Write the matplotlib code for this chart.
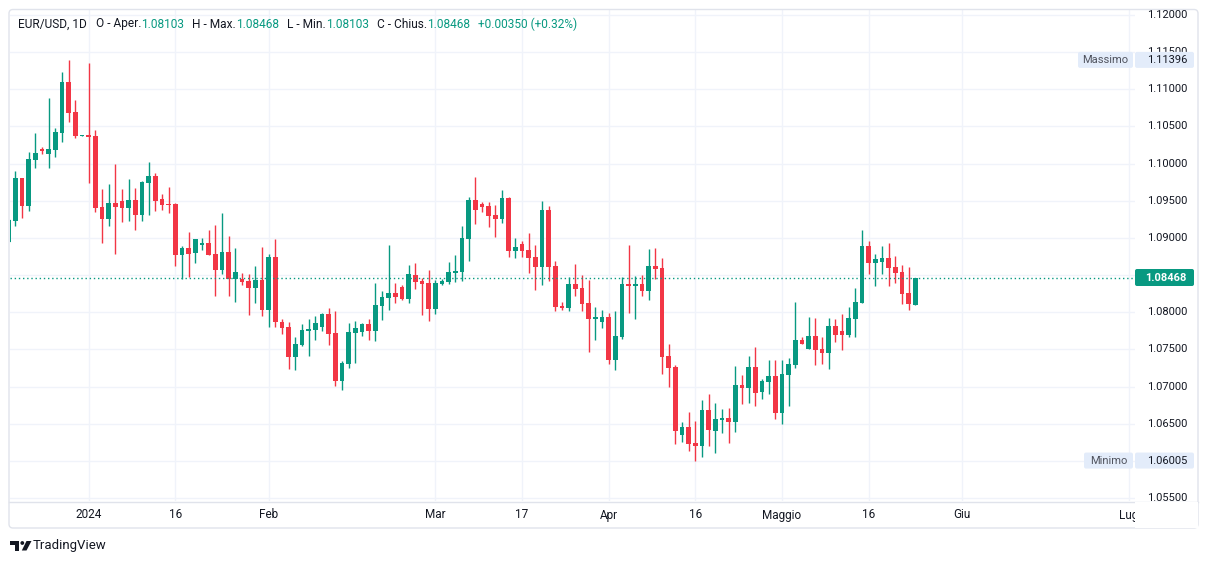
import matplotlib
matplotlib.use("Agg")
import matplotlib.pyplot as plt
from matplotlib.patches import Rectangle, FancyBboxPatch, Polygon, Circle

# daily EUR/USD candles (bar index = position)
opens = [1.08950, 1.09232, 1.09806, 1.09434, 1.10048, 1.10192, 1.10129, 1.10187, 1.10416, 1.11098,
         1.10694, 1.10375, 1.10381, 1.10371, 1.09416, 1.09259, 1.09466, 1.09497, 1.09407, 1.09510,
         1.09313, 1.09743, 1.09833, 1.09524, 1.09457, 1.09457, 1.08775, 1.08865, 1.08802, 1.08909,
         1.08932, 1.08784, 1.08573, 1.08811, 1.08452, 1.08448, 1.08421, 1.08331, 1.08434, 1.08035,
         1.08744, 1.07874, 1.07806, 1.07403, 1.07564, 1.07753, 1.07766, 1.07806, 1.07977, 1.07722,
         1.07080, 1.07309, 1.07726, 1.07739, 1.07843, 1.07753, 1.08089, 1.08196, 1.08260, 1.08340,
         1.08183, 1.08502, 1.08421, 1.08394, 1.08048, 1.08385, 1.08412, 1.08533, 1.08546, 1.08990,
         1.09510, 1.09461, 1.09430, 1.09309, 1.09255, 1.09537, 1.08829, 1.08919, 1.08838, 1.08744,
         1.08613, 1.09376, 1.08623, 1.08089, 1.08062, 1.08381, 1.08327, 1.08125, 1.07914, 1.07874,
         1.07937, 1.07362, 1.07672, 1.08381, 1.08358, 1.08381, 1.08291, 1.08623, 1.08596, 1.07412,
         1.07264, 1.06354, 1.06457, 1.06242, 1.06206, 1.06686, 1.06408, 1.06556, 1.06578, 1.06529,
         1.07022, 1.06986, 1.07264, 1.06932, 1.07067, 1.07143, 1.06650, 1.07161, 1.07295, 1.07627,
         1.07510, 1.07681, 1.07506, 1.07457, 1.07816, 1.07748, 1.07699, 1.07914, 1.08129, 1.08892,
         1.08667, 1.08681, 1.08730, 1.08609, 1.08542, 1.08260, 1.08103]
highs = [1.09250, 1.09905, 1.09810, 1.10156, 1.10412, 1.10227, 1.10878, 1.10479, 1.11232, 1.11396,
         1.10855, 1.10390, 1.11349, 1.10452, 1.09658, 1.09726, 1.09995, 1.09658, 1.09793, 1.09672,
         1.09766, 1.10022, 1.09874, 1.09591, 1.09685, 1.09470, 1.08892, 1.09080, 1.08990, 1.08999,
         1.09107, 1.09174, 1.09336, 1.09026, 1.08865, 1.08529, 1.08515, 1.08623, 1.08878, 1.08784,
         1.08986, 1.07914, 1.07874, 1.07668, 1.07847, 1.07914, 1.07950, 1.07991, 1.08058, 1.08017,
         1.07345, 1.07856, 1.07883, 1.07856, 1.07910, 1.08394, 1.08286, 1.08905, 1.08394, 1.08367,
         1.08636, 1.08663, 1.08461, 1.08569, 1.08434, 1.08448, 1.08677, 1.08771, 1.09161, 1.09551,
         1.09820, 1.09488, 1.09484, 1.09443, 1.09645, 1.09551, 1.08999, 1.08959, 1.09067, 1.08905,
         1.09497, 1.09430, 1.08690, 1.08143, 1.08475, 1.08650, 1.08502, 1.08434, 1.08075, 1.08031,
         1.07991, 1.08017, 1.08475, 1.08905, 1.08488, 1.08502, 1.08851, 1.08865, 1.08730, 1.07574,
         1.07291, 1.06525, 1.06659, 1.06538, 1.06820, 1.06901, 1.06780, 1.06699, 1.06713, 1.07278,
         1.07157, 1.07412, 1.07533, 1.07107, 1.07358, 1.07358, 1.07358, 1.07385, 1.08139, 1.07668,
         1.07937, 1.07923, 1.07668, 1.07923, 1.07910, 1.07977, 1.08071, 1.08327, 1.09107, 1.08959,
         1.08784, 1.08892, 1.08932, 1.08757, 1.08636, 1.08609, 1.08468]
lows = [1.08940, 1.09165, 1.09272, 1.09362, 1.09945, 1.10133, 1.09937, 1.10093, 1.10295, 1.10564,
        1.10348, 1.10370, 1.09743, 1.09353, 1.08936, 1.09165, 1.08780, 1.09219, 1.09232, 1.09111,
        1.09232, 1.09313, 1.09367, 1.09376, 1.09340, 1.08627, 1.08452, 1.08479, 1.08667, 1.08842,
        1.08770, 1.08223, 1.08519, 1.08223, 1.08143, 1.08371, 1.07968, 1.08129, 1.07954, 1.07806,
        1.07806, 1.07712, 1.07241, 1.07228, 1.07551, 1.07416, 1.07631, 1.07753, 1.07564, 1.07013,
        1.06959, 1.07255, 1.07322, 1.07685, 1.07631, 1.07618, 1.07900, 1.08035, 1.08129, 1.08169,
        1.08129, 1.08317, 1.07968, 1.07887, 1.07981, 1.08367, 1.08385, 1.08412, 1.08425, 1.08694,
        1.09192, 1.09353, 1.09151, 1.09017, 1.09205, 1.08748, 1.08734, 1.08748, 1.08533, 1.08304,
        1.08371, 1.08425, 1.08022, 1.08035, 1.08022, 1.08223, 1.08022, 1.07470, 1.07631, 1.07793,
        1.07309, 1.07228, 1.07645, 1.07995, 1.07914, 1.08223, 1.08169, 1.08452, 1.07174, 1.06999,
        1.06233, 1.06260, 1.06139, 1.06005, 1.06058, 1.06206, 1.06112, 1.06381, 1.06246, 1.06394,
        1.06771, 1.06784, 1.06744, 1.06838, 1.06905, 1.06569, 1.06502, 1.06744, 1.07255, 1.07575,
        1.07505, 1.07295, 1.07309, 1.07241, 1.07605, 1.07497, 1.07672, 1.07672, 1.08125, 1.08519,
        1.08358, 1.08519, 1.08358, 1.08398, 1.08116, 1.08035, 1.08103]
closes = [1.09241, 1.09806, 1.09434, 1.10062, 1.10143, 1.10174, 1.10196, 1.10425, 1.11098, 1.10685,
          1.10371, 1.10385, 1.10362, 1.09407, 1.09259, 1.09466, 1.09420, 1.09407, 1.09510, 1.09313,
          1.09753, 1.09833, 1.09501, 1.09447, 1.09447, 1.08775, 1.08865, 1.08788, 1.08986, 1.08932,
          1.08775, 1.08573, 1.08811, 1.08452, 1.08542, 1.08412, 1.08331, 1.08434, 1.08035, 1.08744,
          1.07874, 1.07793, 1.07403, 1.07578, 1.07766, 1.07775, 1.07856, 1.07977, 1.07712, 1.07080,
          1.07322, 1.07735, 1.07789, 1.07843, 1.07753, 1.08098, 1.08206, 1.08260, 1.08210, 1.08183,
          1.08515, 1.08412, 1.08385, 1.08048, 1.08394, 1.08421, 1.08542, 1.08555, 1.08999, 1.09510,
          1.09380, 1.09420, 1.09299, 1.09255, 1.09537, 1.08829, 1.08878, 1.08829, 1.08734, 1.08613,
          1.09376, 1.08613, 1.08075, 1.08062, 1.08381, 1.08317, 1.08116, 1.07914, 1.07937, 1.07937,
          1.07362, 1.07681, 1.08381, 1.08358, 1.08381, 1.08291, 1.08623, 1.08586, 1.07403, 1.07255,
          1.06408, 1.06457, 1.06233, 1.06206, 1.06686, 1.06421, 1.06565, 1.06578, 1.06529, 1.07022,
          1.06986, 1.07264, 1.06919, 1.07072, 1.07143, 1.06650, 1.07170, 1.07305, 1.07627, 1.07578,
          1.07681, 1.07497, 1.07457, 1.07816, 1.07699, 1.07699, 1.07923, 1.08139, 1.08892, 1.08667,
          1.08717, 1.08730, 1.08600, 1.08533, 1.08250, 1.08118, 1.08468]

tick_pos = [12, 25, 39, 64, 77, 90, 103, 116, 129, 143, 168]
tick_labels = ["2024", "16", "Feb", "Mar", "17", "Apr", "16", "Maggio", "16", "Giu", "Lug"]
price_levels = [1.055, 1.060, 1.065, 1.070, 1.075, 1.080, 1.085,
                1.090, 1.095, 1.100, 1.105, 1.110, 1.115, 1.120]

UP = "#089981"
DOWN = "#f23645"
GRID = "#f0f3fa"
TXT = "#131722"
BORDER = "#e0e3eb"
TAG = "#e3ecfa"
FONT = "Roboto"

W, H = 1209, 564
fig = plt.figure(figsize=(W / 100, H / 100), dpi=100)
fig.patch.set_facecolor("white")

# chart pane
ax = fig.add_axes([9.5 / W, 1 - 501 / H, (1135 - 9.5) / W, (501 - 10) / H])
ax.set_xlim(0.13, 168.95)
ax.set_ylim(1.05461, 1.12067)
ax.set_axis_off()

for lv in price_levels:
    ax.axhline(lv, color=GRID, lw=1, zorder=0)
for p in tick_pos:
    ax.axvline(p, color=GRID, lw=1, zorder=0)

for i, (o, h, l, c) in enumerate(zip(opens, highs, lows, closes)):
    col = UP if c >= o else DOWN
    ax.vlines(i, l, h, color=col, lw=1, zorder=2)
    ax.bar(i, max(abs(c - o), 0.00013), bottom=min(o, c), width=0.72,
           color=col, linewidth=0, zorder=2)

last = closes[-1]
ax.axhline(last, color=UP, lw=1, ls=(0, (1, 2)), zorder=3)

# overlay in pixel coordinates for the surrounding chrome
ov = fig.add_axes([0, 0, 1, 1], zorder=5)
ov.set_xlim(0, W)
ov.set_ylim(H, 0)
ov.set_axis_off()


def py(price):
    return H - ax.transData.transform((0, price))[1]


def px(idx):
    return ax.transData.transform((idx, 0))[0]


ov.add_patch(FancyBboxPatch((9, 9.5), 1189, 518.5, boxstyle="round,pad=0,rounding_size=4",
                            fc="none", ec=BORDER, lw=1, zorder=1))
ov.plot([9, 1198], [501.5, 501.5], color=BORDER, lw=1, zorder=1)

# price scale
for lv in price_levels:
    ov.text(1187, py(lv), f"{lv:.5f}", ha="right", va="center", fontsize=8,
            color=TXT, family=FONT, zorder=2)

# time scale
for p, lab in zip(tick_pos, tick_labels):
    ov.text(px(p), 515, lab, ha="center", va="center", fontsize=8.5,
            color=TXT, family=FONT, zorder=2)

ov.add_patch(Rectangle((1135, 502), 62.5, 25.5, fc="white", ec="none", zorder=3))


def tag(price, label, width):
    y = py(price)
    ov.add_patch(FancyBboxPatch((1133 - width, y - 8), width, 16,
                                boxstyle="round,pad=0,rounding_size=2", fc=TAG, ec="none", zorder=4))
    ov.add_patch(FancyBboxPatch((1135, y - 8), 59, 16,
                                boxstyle="round,pad=0,rounding_size=2", fc=TAG, ec="none", zorder=4))
    ov.text(1133 - width / 2, y, label, ha="center", va="center", fontsize=8,
            color="#50535e", family=FONT, zorder=5)
    ov.text(1187, y, f"{price:.5f}", ha="right", va="center", fontsize=8,
            color=TXT, family=FONT, zorder=5)


tag(max(highs), "Massimo", 55)
tag(min(lows), "Minimo", 49)

yl = py(last)
ov.add_patch(FancyBboxPatch((1135, yl - 8.5), 59, 17, boxstyle="round,pad=0,rounding_size=2",
                            fc=UP, ec="none", zorder=4))
ov.text(1187, yl, f"{last:.5f}", ha="right", va="center", fontsize=8, color="white",
        fontweight="bold", family=FONT, zorder=5)

# legend line at the top
change = closes[-1] - closes[-2]
pieces = [("EUR/USD, 1D", TXT, 9), ("O - Aper.", TXT, 0), (f"{opens[-1]:.5f}", UP, 8),
          ("H - Max.", TXT, 0), (f"{highs[-1]:.5f}", UP, 8),
          ("L - Min.", TXT, 0), (f"{lows[-1]:.5f}", UP, 8),
          ("C - Chius.", TXT, 0), (f"{closes[-1]:.5f}", UP, 8),
          (f"{change:+.5f} ({change / closes[-2] * 100:+.2f}%)", UP, 0)]
renderer = fig.canvas.get_renderer()
x = 18
for s, col, gap in pieces:
    t = ov.text(x, 24, s, ha="left", va="center", fontsize=8.6, color=col, family=FONT)
    x += t.get_window_extent(renderer).width + gap

# TradingView mark
ov.add_patch(Polygon([(10, 541), (19, 541), (19, 550.5), (14.7, 550.5), (14.7, 545), (10, 545)],
                     closed=True, fc=TXT, ec="none"))
ov.add_patch(Circle((22.3, 543), 1.9, fc=TXT, ec="none"))
ov.add_patch(Polygon([(26.5, 541), (31.5, 541), (26.5, 550.5), (21.8, 550.5)],
                     closed=True, fc=TXT, ec="none"))
ov.text(33, 546, "TradingView", ha="left", va="center", fontsize=9.5, color=TXT, family=FONT)

fig.savefig("out.png", dpi=100)
